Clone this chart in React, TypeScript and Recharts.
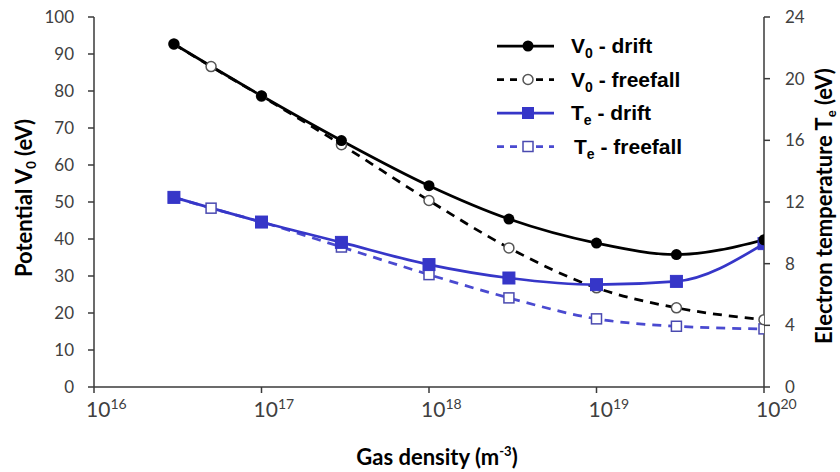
import React from 'react';
import { LineChart, Line, XAxis, YAxis, Label } from 'recharts';

const densities = [3e16, 5e16, 1e17, 3e17, 1e18, 3e18, 1e19, 3e19, 1e20];
const v0Drift = [92.7, null, 78.7, 66.6, 54.4, 45.4, 38.9, 35.8, 39.8];
const v0Freefall = [92.7, 86.6, 78.6, 65.5, 50.4, 37.6, 26.8, 21.4, 18.2];
const teDrift = [12.3, null, 10.7, 9.38, 7.94, 7.07, 6.64, 6.85, 9.3];
const teFreefall = [12.3, 11.6, 10.7, 9.08, 7.29, 5.78, 4.42, 3.94, 3.77];

const xTicks = [1e16, 1e17, 1e18, 1e19, 1e20];
const leftTicks = [0, 10, 20, 30, 40, 50, 60, 70, 80, 90, 100];
const rightTicks = [0, 4, 8, 12, 16, 20, 24];

const data = densities.map((d, i) => ({
  n: d,
  v0d: v0Drift[i],
  v0f: v0Freefall[i],
  ted: teDrift[i],
  tef: teFreefall[i],
}));

const BLUE = '#3636c8';
const BLUE_LIGHT = '#4a4ad0';
const AXIS = '#3a3a3a';
const TICKTXT = '#404040';
const TICKFONT = 'Lato, "Open Sans", sans-serif';
const TITLEFONT = 'Lato, "Open Sans", sans-serif';

const XTick = (props: any) => {
  const { x, y, payload } = props;
  const exp = Math.round(Math.log10(payload.value));
  return (
    <text x={x - 8} y={y + 22} textAnchor="start" fill={TICKTXT} fontFamily={TICKFONT} fontSize={21}>
      <tspan>10</tspan>
      <tspan fontSize={14} dy={-8}>{exp}</tspan>
    </text>
  );
};

const BlueSquare = (props: any) => {
  const { cx, cy } = props;
  if (cx == null || cy == null || props.value == null) return null;
  return <rect x={cx - 6} y={cy - 6} width={12} height={12} fill={BLUE} stroke={BLUE} strokeWidth={1} />;
};
const HollowSquare = (props: any) => {
  const { cx, cy } = props;
  if (cx == null || cy == null || props.value == null) return null;
  return <rect x={cx - 5} y={cy - 5} width={10} height={10} fill="#fff" stroke="#4a4ab0" strokeWidth={1.5} />;
};

const legendRows = [
  { label: 'V', sub: '0', rest: ' - drift', color: '#000', dash: undefined, marker: 'fc' },
  { label: 'V', sub: '0', rest: ' - freefall', color: '#000', dash: '7 6', marker: 'hc' },
  { label: 'T', sub: 'e', rest: ' - drift', color: BLUE, dash: undefined, marker: 'fs' },
  { label: 'T', sub: 'e', rest: ' - freefall', color: BLUE_LIGHT, dash: '7 6', marker: 'hs' },
];

const LegendBox = () => (
  <svg width={240} height={150} style={{ position: 'absolute', left: 495, top: 28 }}>
    {legendRows.map((r, i) => {
      const y = 18 + i * 33.5;
      const mx = 33;
      return (
        <g key={i}>
          <line x1={2} x2={59} y1={y} y2={y} stroke={r.color} strokeWidth={2.75} strokeDasharray={r.dash} />
          {r.marker === 'fc' && <circle cx={mx} cy={y} r={5.5} fill="#000" />}
          {r.marker === 'hc' && <circle cx={mx} cy={y} r={5} fill="#fff" stroke="#555" strokeWidth={1.5} />}
          {r.marker === 'fs' && <rect x={mx - 6} y={y - 6} width={12} height={12} fill={BLUE} />}
          {r.marker === 'hs' && <rect x={mx - 5} y={y - 5} width={10} height={10} fill="#fff" stroke="#4a4ab0" strokeWidth={1.5} />}
          <text x={i === 3 ? 79 : 76} y={y + 7} fontFamily='"Liberation Sans", Arial, sans-serif' fontWeight="bold" fontSize={21} fill="#000">
            <tspan>{r.label}</tspan>
            <tspan fontSize={14} dy={5}>{r.sub}</tspan>
            <tspan dy={-5}>{r.rest}</tspan>
          </text>
        </g>
      );
    })}
  </svg>
);

export default function App() {
  return (
    <div style={{ position: 'absolute', left: 0, top: 0, width: 840, height: 472, background: '#fff' }}>
      <LineChart width={840} height={472} data={data} margin={{ top: 17, right: 0, bottom: 0, left: 0 }}>
        <XAxis
          dataKey="n"
          type="number"
          scale="log"
          domain={[1e16, 1e20]}
          ticks={xTicks}
          interval={0}
          allowDataOverflow
          height={85}
          tickSize={6}
          tick={<XTick />}
          stroke={AXIS}
          strokeWidth={1.5}
        >
          <Label
            content={(p: any) => {
              const vb = p.viewBox;
              return (
                <text x={vb.x + vb.width / 2 + 8} y={465} textAnchor="middle" fontFamily={TITLEFONT} fontWeight={700} fontSize={22} fill="#000">
                  <tspan>Gas density (m</tspan>
                  <tspan fontSize={13} dy={-9}>-3</tspan>
                  <tspan dy={9}>)</tspan>
                </text>
              );
            }}
          />
        </XAxis>
        <YAxis
          yAxisId="left"
          domain={[0, 100]}
          ticks={leftTicks}
          interval={0}
          width={94}
          tickSize={6}
          tickMargin={14}
          tick={{ fill: TICKTXT, fontSize: 17, fontFamily: TICKFONT }}
          stroke={AXIS}
          strokeWidth={1.5}
        >
          <Label
            content={() => (
              <text x={32} y={198} transform="rotate(-90 32 198)" textAnchor="middle" fontFamily={TITLEFONT} fontWeight={700} fontSize={22} fill="#000">
                <tspan>Potential V</tspan>
                <tspan fontSize={13} dy={4}>0</tspan>
                <tspan dy={-4}> (eV)</tspan>
              </text>
            )}
          />
        </YAxis>
        <YAxis
          yAxisId="right"
          orientation="right"
          domain={[0, 24]}
          ticks={rightTicks}
          interval={0}
          width={76}
          tickSize={6}
          tickMargin={15}
          tick={{ fill: TICKTXT, fontSize: 17, fontFamily: TICKFONT }}
          stroke={AXIS}
          strokeWidth={1.5}
        >
          <Label
            content={() => (
              <text x={832} y={206} transform="rotate(-90 832 206)" textAnchor="middle" fontFamily={TITLEFONT} fontWeight={700} fontSize={22} fill="#000">
                <tspan>Electron temperature T</tspan>
                <tspan fontSize={13} dy={4}>e</tspan>
                <tspan dy={-4}> (eV)</tspan>
              </text>
            )}
          />
        </YAxis>
        <Line
          yAxisId="right"
          dataKey="tef"
          type="monotone"
          stroke={BLUE_LIGHT}
          strokeWidth={2.75}
          strokeDasharray="9 7"
          dot={<HollowSquare />}
          activeDot={false}
          isAnimationActive={false}
          connectNulls
        />
        <Line
          yAxisId="left"
          dataKey="v0f"
          type="monotone"
          stroke="#000"
          strokeWidth={2.75}
          strokeDasharray="9 7"
          dot={{ r: 5, fill: '#fff', stroke: '#555', strokeWidth: 1.5, strokeDasharray: '' }}
          activeDot={false}
          isAnimationActive={false}
          connectNulls
        />
        <Line
          yAxisId="right"
          dataKey="ted"
          type="monotone"
          stroke={BLUE}
          strokeWidth={2.75}
          dot={<BlueSquare />}
          activeDot={false}
          isAnimationActive={false}
          connectNulls
        />
        <Line
          yAxisId="left"
          dataKey="v0d"
          type="monotone"
          stroke="#000"
          strokeWidth={2.75}
          dot={{ r: 5.5, fill: '#000', stroke: '#000', strokeWidth: 0 }}
          activeDot={false}
          isAnimationActive={false}
          connectNulls
        />
      </LineChart>
      <LegendBox />
    </div>
  );
}
